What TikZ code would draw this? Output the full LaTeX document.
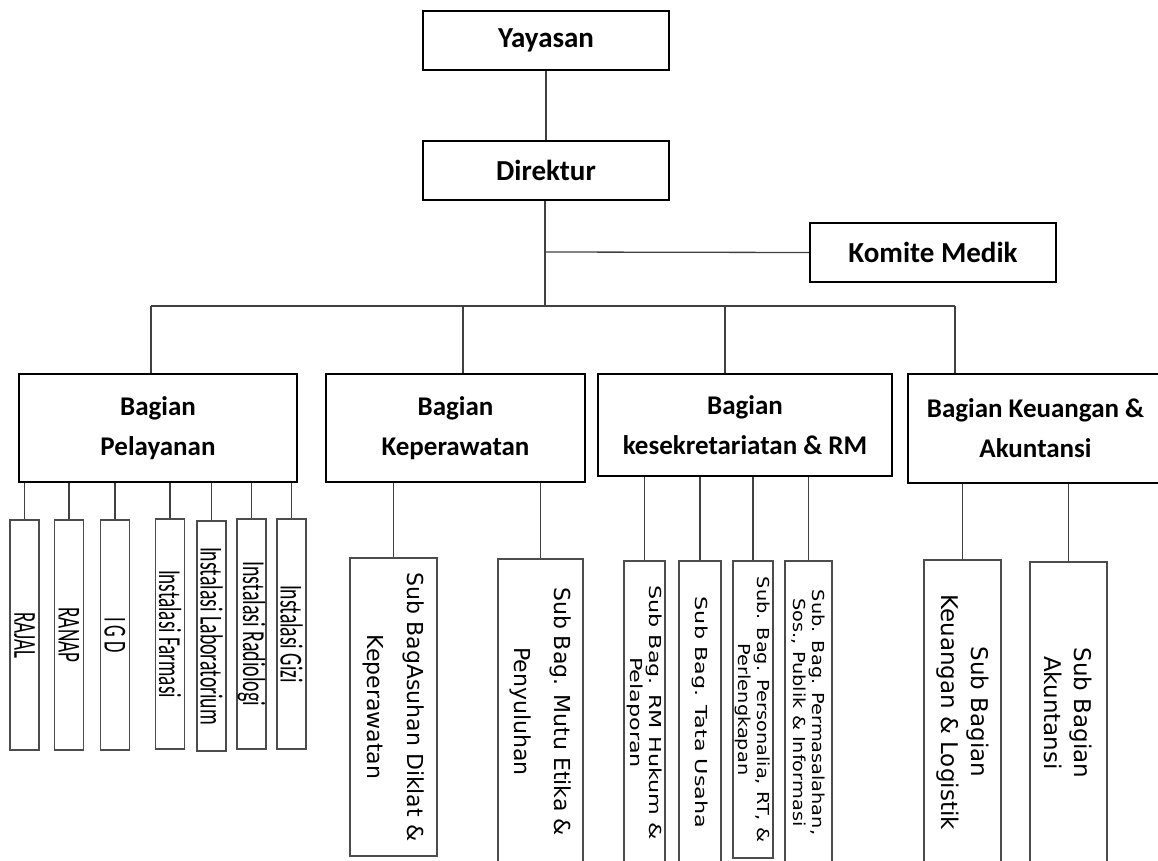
\documentclass[tikz,border=0pt]{standalone}
\usepackage{fontspec}
\setmainfont{Carlito}
\newfontfamily\subfont{DejaVu Sans}
\newfontfamily\subfontwide[FakeStretch=1.35]{DejaVu Sans}
\newfontfamily\subfontmid[FakeStretch=1.17]{DejaVu Sans}
\newcommand{\instlabel}[2]{\resizebox{#1pt}{\height}{#2}}
\usetikzlibrary{calc}

\begin{document}
\begin{tikzpicture}[x=1pt, y=-1pt,
  pimpinan/.style={draw, line width=2.2pt, inner sep=0pt, minimum height=59pt, font=\bfseries\fontsize{29}{34}\selectfont},
  bagian/.style={draw, line width=2.2pt, inner sep=0pt, align=center, font=\bfseries\fontsize{27}{40}\selectfont},
  subbag/.style={draw=black!70, line width=1.5pt, rotate=-90, inner sep=0pt, align=center},
  instbox/.style={subbag, minimum width=230pt, minimum height=29pt, font=\fontsize{32}{36}\selectfont},
  rawat/.style={subbag, font=\subfont\fontsize{22}{40}\selectfont},
  sekre/.style={subbag, font=\subfontwide\fontsize{16.5}{19}\selectfont},
  sekremid/.style={subbag, font=\subfontmid\fontsize{16.5}{19}\selectfont},
  uang/.style={subbag, font=\subfont\fontsize{23}{30}\selectfont},
  garis/.style={draw=black!75, line width=1.3pt}]
\useasboundingbox (0,0) rectangle (1158,861);
% top of the chart
\node[pimpinan, minimum width=246pt] (yayasan) at (546,40.5) {Yayasan};
\node[pimpinan, minimum width=246pt] (direktur) at (546,170.5) {Direktur};
\node[pimpinan, minimum width=246pt] (komite) at (933,252.5) {Komite Medik};
% bagian
\node[bagian, minimum width=278pt, minimum height=108pt] (pelayanan) at (158,428) {Bagian\\Pelayanan};
\node[bagian, minimum width=259pt, minimum height=108pt] (keperawatan) at (455.5,428) {Bagian\\Keperawatan};
\node[bagian, minimum width=294pt, minimum height=102pt] (sekretariat) at (745,425) {Bagian\\kesekretariatan \& RM};
\node[bagian, minimum width=255pt, minimum height=109pt] (keuangan) at (1035.5,428.5) {Bagian Keuangan \&\\Akuntansi};
% instalasi under pelayanan
\node[instbox] (rajal) at (24.5,635) {\instlabel{46}{RAJAL}};
\node[instbox] (ranap) at (69,635) {\instlabel{55}{RANAP}};
\node[instbox] (igd) at (115,635) {\instlabel{36}{I G D}};
\node[instbox] (farmasi) at (170,634) {\instlabel{128}{Instalasi Farmasi}};
\node[instbox] (lab) at (211.5,636) {\instlabel{178}{Instalasi Laboratorium}};
\node[instbox] (radiologi) at (251.5,634) {\instlabel{145}{Instalasi Radiologi}};
\node[instbox] (gizi) at (291.5,634) {\instlabel{98}{Instalasi Gizi}};
% sub bagian
\node[rawat, minimum width=298pt, minimum height=87pt] (asuhan) at (393.5,707) {Sub BagAsuhan Diklat \&\\Keperawatan};
\node[rawat, minimum width=305pt, minimum height=85pt] (mutu) at (540.5,711.5) {Sub Bag. Mutu Etika \&\\Penyuluhan};
\node[sekre, minimum width=303pt, minimum height=41pt] (hukum) at (644.5,712.5) {Sub Bag. RM Hukum \&\\Pelaporan};
\node[sekre, minimum width=303pt, minimum height=42pt] (tatausaha) at (700,712.5) {Sub Bag. Tata Usaha};
\node[sekremid, minimum width=297pt, minimum height=40pt] (personalia) at (753,709.5) {Sub. Bag. Personalia, RT, \&\\Perlengkapan};
\node[sekremid, minimum width=303pt, minimum height=47pt] (humas) at (808.5,712.5) {Sub. Bag. Permasalahan,\\Sos., Publik \& Informasi};
\node[uang, minimum width=304pt, minimum height=77pt] (logistik) at (962.5,712) {Sub Bagian\\Keuangan \& Logistik};
\node[uang, minimum width=302pt, minimum height=77pt] (akuntansi) at (1068.5,713) {Sub Bagian\\Akuntansi};
% lines
\coordinate (komitejoin) at (545,252);
\coordinate (hub) at (545,306);
\coordinate (b1) at (151,306);
\coordinate (b2) at (463,306);
\coordinate (b3) at (725,306);
\coordinate (b4) at (955,306);
\draw[garis] (yayasan) -- (direktur);
\draw[garis] (direktur.south -| hub) -- (hub);
\draw[garis] (komitejoin) -- (komite.west);
\draw[garis] (b1) -- (b4);
\draw[garis] (b1) -- (b1 |- pelayanan.north);
\draw[garis] (b2) -- (b2 |- keperawatan.north);
\draw[garis] (b3) -- (b3 |- sekretariat.north);
\draw[garis] (b4) -- (b4 |- keuangan.north);
\foreach \s in {rajal,ranap,igd,farmasi,lab,radiologi,gizi}
  \draw[garis] (pelayanan.south -| \s.west) -- (\s.west);
\foreach \s in {asuhan,mutu}
  \draw[garis] (keperawatan.south -| \s.west) -- (\s.west);
\foreach \s in {hukum,tatausaha,personalia,humas}
  \draw[garis] (sekretariat.south -| \s.west) -- (\s.west);
\foreach \s in {logistik,akuntansi}
  \draw[garis] (keuangan.south -| \s.west) -- (\s.west);
\end{tikzpicture}
\end{document}
